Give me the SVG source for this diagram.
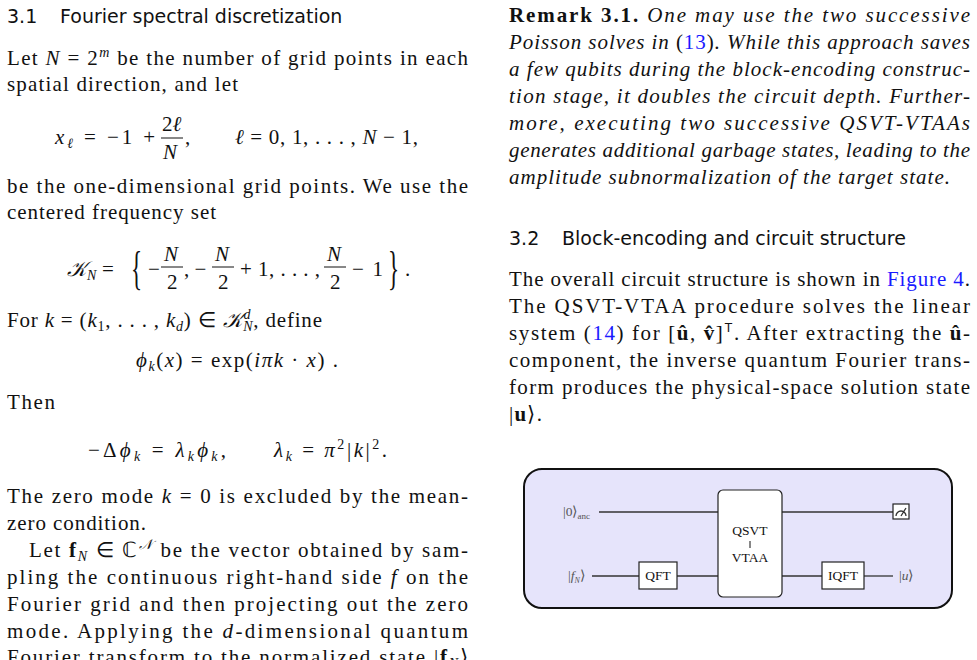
<svg xmlns="http://www.w3.org/2000/svg" width="977" height="660" viewBox="0 0 977 660">
<style>
.t{font-family:"Liberation Serif",serif;font-size:21px;fill:#111}
.i{font-style:italic}
.b{font-weight:bold}
.s{font-size:14px}
.h{font-family:"DejaVu Sans","Liberation Sans",sans-serif;font-size:19px;fill:#111}
.l{fill:#1a1aff}
.w{stroke:#333;stroke-width:1.3;fill:none}
.g{fill:#fff;stroke:#222;stroke-width:1.2}
.f{font-family:"Liberation Serif",serif;font-size:13.5px;fill:#111}
.q{font-family:"Liberation Serif",serif;font-size:13.5px;fill:#555}
.fr{stroke:#111;stroke-width:1}
</style>
<rect width="977" height="660" fill="#fff"/>
<g id="left">
<text class="h" x="7" y="23">3.1<tspan x="60">Fourier spectral discretization</tspan></text>
<text class="t" x="7" y="65" textLength="461" lengthAdjust="spacing">Let <tspan class="i">N</tspan> = 2<tspan dy="-8" class="i s">m</tspan><tspan dy="8"> be the number of grid points in each</tspan></text>
<text class="t" x="7" y="91" textLength="231" lengthAdjust="spacing">spatial direction, and let</text>
<text class="t" x="55" y="144" textLength="100" lengthAdjust="spacing"><tspan class="i">x</tspan><tspan class="i s" dy="4">ℓ</tspan><tspan dy="-4"> = −1 +</tspan></text>
<text class="t" x="162" y="131">2<tspan class="i">ℓ</tspan></text>
<line class="fr" x1="161" y1="138" x2="183" y2="138"/>
<text class="t i" x="163" y="159">N</text>
<text class="t" x="185" y="144">,</text>
<text class="t" x="235" y="144" textLength="183" lengthAdjust="spacing"><tspan class="i">ℓ</tspan> = 0, 1, . . . , <tspan class="i">N</tspan> − 1,</text>
<text class="t" x="7" y="193" textLength="461" lengthAdjust="spacing">be the one-dimensional grid points. We use the</text>
<text class="t" x="7" y="219" textLength="209" lengthAdjust="spacing">centered frequency set</text>
<text class="t" x="67" y="276"><tspan class="i">𝒦</tspan><tspan class="i s" dy="4">N</tspan><tspan dy="-4" x="102">=</tspan></text>
<text class="t" transform="translate(131,284) scale(1.1,2.2)">{</text>
<text class="t" x="148" y="276">−</text>
<text class="t i" x="164" y="261">N</text><line class="fr" x1="161" y1="267" x2="183" y2="267"/><text class="t" x="167" y="289">2</text>
<text class="t" x="184" y="276">, −</text>
<text class="t i" x="215" y="261">N</text><line class="fr" x1="212" y1="267" x2="234" y2="267"/><text class="t" x="218" y="289">2</text>
<text class="t" x="240" y="276" textLength="80" lengthAdjust="spacing">+ 1, . . . ,</text>
<text class="t i" x="327" y="261">N</text><line class="fr" x1="324" y1="267" x2="346" y2="267"/><text class="t" x="330" y="289">2</text>
<text class="t" x="352" y="276" textLength="31" lengthAdjust="spacing">− 1</text>
<text class="t" transform="translate(388,284) scale(1.1,2.2)">}</text>
<text class="t" x="405" y="276">.</text>
<text class="t" x="7" y="327" textLength="315" lengthAdjust="spacing">For <tspan class="i">k</tspan> = (<tspan class="i">k</tspan><tspan class="s" dy="4">1</tspan><tspan dy="-4">, . . . , </tspan><tspan class="i">k</tspan><tspan class="s i" dy="4">d</tspan><tspan dy="-4">) ∈ </tspan><tspan class="i">𝒦</tspan><tspan class="s i" dy="-8">d</tspan><tspan class="s i" dx="-8" dy="12">N</tspan><tspan dy="-4">, define</tspan></text>
<text class="t" x="136" y="367" textLength="202" lengthAdjust="spacing"><tspan class="i">ϕ</tspan><tspan class="i s" dy="4">k</tspan><tspan dy="-4">(</tspan><tspan class="i">x</tspan>) = exp(<tspan class="i">iπk</tspan> · <tspan class="i">x</tspan>) .</text>
<text class="t" x="7" y="409" textLength="48" lengthAdjust="spacing">Then</text>
<text class="t" x="88" y="457" textLength="138" lengthAdjust="spacing">−Δ<tspan class="i">ϕ</tspan><tspan class="i s" dy="4">k</tspan><tspan dy="-4"> = </tspan><tspan class="i">λ</tspan><tspan class="i s" dy="4">k</tspan><tspan class="i" dy="-4">ϕ</tspan><tspan class="i s" dy="4">k</tspan><tspan dy="-4">,</tspan></text>
<text class="t" x="274" y="457" textLength="113" lengthAdjust="spacing"><tspan class="i">λ</tspan><tspan class="i s" dy="4">k</tspan><tspan dy="-4"> = </tspan><tspan class="i">π</tspan><tspan class="s" dy="-8">2</tspan><tspan dy="8">|</tspan><tspan class="i">k</tspan>|<tspan class="s" dy="-8">2</tspan><tspan dy="8">.</tspan></text>
<text class="t" x="7" y="503" textLength="461" lengthAdjust="spacing">The zero mode <tspan class="i">k</tspan> = 0 is excluded by the mean-</text>
<text class="t" x="7" y="530" textLength="139" lengthAdjust="spacing">zero condition.</text>
<text class="t" x="29" y="557" textLength="439" lengthAdjust="spacing">Let <tspan class="b">f</tspan><tspan class="i s" dy="4">N</tspan><tspan dy="-4"> ∈ ℂ</tspan><tspan class="i s" dy="-8">𝒩</tspan><tspan dy="8"> be the vector obtained by sam-</tspan></text>
<text class="t" x="7" y="584" textLength="461" lengthAdjust="spacing">pling the continuous right-hand side <tspan class="i">f</tspan> on the</text>
<text class="t" x="7" y="611" textLength="461" lengthAdjust="spacing">Fourier grid and then projecting out the zero</text>
<text class="t" x="7" y="638" textLength="461" lengthAdjust="spacing">mode.  Applying the <tspan class="i">d</tspan>-dimensional quantum</text>
<text class="t" x="7" y="664" textLength="461" lengthAdjust="spacing">Fourier transform to the normalized state |<tspan class="b">f</tspan><tspan class="i s" dy="4">N</tspan><tspan dy="-4">⟩</tspan></text>
</g>
<g id="right">
<text class="t" x="509" y="22" textLength="461" lengthAdjust="spacing"><tspan class="b">Remark 3.1.</tspan><tspan class="i"> One may use the two successive</tspan></text>
<text class="t" x="509" y="49" textLength="461" lengthAdjust="spacing"><tspan class="i">Poisson solves in </tspan>(<tspan class="l">13</tspan>)<tspan class="i">.  While this approach saves</tspan></text>
<text class="t i" x="509" y="76" textLength="461" lengthAdjust="spacing">a few qubits during the block-encoding construc-</text>
<text class="t i" x="509" y="103" textLength="461" lengthAdjust="spacing">tion stage, it doubles the circuit depth. Further-</text>
<text class="t i" x="509" y="130" textLength="461" lengthAdjust="spacing">more, executing two successive QSVT-VTAAs</text>
<text class="t i" x="509" y="157" textLength="461" lengthAdjust="spacing">generates additional garbage states, leading to the</text>
<text class="t i" x="509" y="184" textLength="441" lengthAdjust="spacing">amplitude subnormalization of the target state.</text>
<text class="h" x="509" y="245">3.2<tspan x="562">Block-encoding and circuit structure</tspan></text>
<text class="t" x="509" y="286" textLength="461" lengthAdjust="spacing">The overall circuit structure is shown in <tspan class="l">Figure 4</tspan>.</text>
<text class="t" x="509" y="313" textLength="461" lengthAdjust="spacing">The QSVT-VTAA procedure solves the linear</text>
<text class="t" x="509" y="340" textLength="461" lengthAdjust="spacing">system (<tspan class="l">14</tspan>) for [<tspan class="b">û</tspan>, <tspan class="b">v̂</tspan>]<tspan font-family="Liberation Sans" font-size="13" dy="-8">T</tspan><tspan dy="8">.  After extracting the </tspan><tspan class="b">û</tspan>-</text>
<text class="t" x="509" y="367" textLength="461" lengthAdjust="spacing">component, the inverse quantum Fourier trans-</text>
<text class="t" x="509" y="394" textLength="461" lengthAdjust="spacing">form produces the physical-space solution state</text>
<text class="t" x="509" y="421" textLength="33" lengthAdjust="spacing">|<tspan class="b">u</tspan>⟩.</text>
</g>
<g id="figure">
<rect x="524" y="469" width="428" height="139" rx="18" fill="#e6e4fb" stroke="#111" stroke-width="2"/>
</g>
<g id="connectors">
<line class="w" x1="599" y1="512" x2="718" y2="512"/>
<line class="w" x1="782" y1="512" x2="893" y2="512"/>
<line class="w" x1="592" y1="576" x2="639" y2="576"/>
<line class="w" x1="677" y1="576" x2="718" y2="576"/>
<line class="w" x1="782" y1="576" x2="822" y2="576"/>
<line class="w" x1="864" y1="576" x2="893" y2="576"/>
</g>
<g id="in-anc"><text class="q" x="563" y="516">|0⟩<tspan font-size="9" dy="3">anc</tspan></text></g>
<g id="in-f"><text class="q" x="568" y="580">|<tspan class="i">f</tspan><tspan class="i" font-size="8" dy="3">N</tspan><tspan dy="-3">⟩</tspan></text></g>
<g id="qft"><rect class="g" x="639" y="562" width="38" height="27"/><text class="f" x="658" y="580" text-anchor="middle">QFT</text></g>
<g id="qsvt"><rect class="g" x="718" y="490" width="64" height="107" rx="5"/><text class="f" x="750" y="535" text-anchor="middle">QSVT</text><line x1="750" y1="541" x2="750" y2="548" stroke="#111"/><text class="f" x="750" y="562" text-anchor="middle">VTAA</text></g>
<g id="iqft"><rect class="g" x="822" y="562" width="42" height="27"/><text class="f" x="843" y="580" text-anchor="middle">IQFT</text></g>
<g id="meter"><rect class="g" x="893" y="504" width="16" height="15"/><path d="M896 516 A5 5 0 0 1 906 516 M901 516 L906 508" class="w" stroke-width="1"/></g>
<g id="out-u"><text class="q" x="899" y="580">|<tspan class="i">u</tspan>⟩</text></g>
</svg>
